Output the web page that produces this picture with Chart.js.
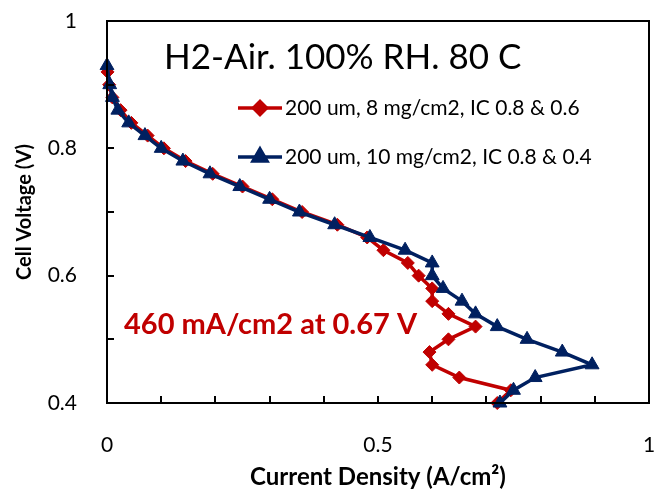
<!DOCTYPE html>
<html>
<head>
<meta charset="utf-8">
<script src="https://cdn.jsdelivr.net/npm/chart.js@4"></script>
<style>
  html, body { margin: 0; padding: 0; background: #fff; }
  canvas { display: block; }
</style>
</head>
<body>
<canvas id="polar" width="658" height="490"></canvas>
<script>
const ctx = document.getElementById('polar')

// polarization curves, current density (A/cm2) vs cell voltage (V)
const redV = [0.92, 0.90, 0.88, 0.86, 0.84, 0.82, 0.80, 0.78, 0.76, 0.74, 0.72, 0.70, 0.68, 0.66, 0.64, 0.62, 0.60, 0.58, 0.56, 0.54, 0.52, 0.50, 0.48, 0.46, 0.44, 0.42, 0.40]
const redI = [0.001, 0.004, 0.01, 0.025, 0.045, 0.075, 0.105, 0.145, 0.195, 0.25, 0.305, 0.36, 0.425, 0.48, 0.51, 0.555, 0.575, 0.60, 0.60, 0.63, 0.68, 0.63, 0.595, 0.60, 0.65, 0.745, 0.72]

const blueV = [0.93, 0.90, 0.88, 0.86, 0.84, 0.82, 0.80, 0.78, 0.76, 0.74, 0.72, 0.70, 0.68, 0.66, 0.64, 0.62, 0.60, 0.58, 0.56, 0.54, 0.52, 0.50, 0.48, 0.46, 0.44, 0.42, 0.40]
const blueI = [0.0, 0.005, 0.01, 0.02, 0.04, 0.07, 0.10, 0.14, 0.19, 0.245, 0.30, 0.355, 0.42, 0.485, 0.55, 0.60, 0.60, 0.62, 0.655, 0.68, 0.72, 0.775, 0.84, 0.895, 0.79, 0.75, 0.725]

const legendNames = ['200 um, 8 mg/cm2, IC 0.8 & 0.6', '200 um, 10 mg/cm2, IC 0.8 & 0.4']
const chartTitle = 'H2-Air. 100% RH. 80 C'
const note = '460 mA/cm2 at 0.67 V'

const RED = '#C00000'
const BLUE = '#002060'
const FONT = 'Lato, "Open Sans", sans-serif'

const pts = (xs, ys) => xs.map((x, i) => ({ x: x, y: ys[i] }))

// inward tick marks, box border, title, legend and note
const extras = {
  id: 'extras',
  afterDraw(chart) {
    const c = chart.ctx
    const a = chart.chartArea
    const sx = chart.scales.x
    const sy = chart.scales.y
    c.save()
    c.strokeStyle = '#000'
    c.lineWidth = 2
    c.beginPath()
    sx.ticks.forEach(t => {
      const px = Math.round(sx.getPixelForValue(t.value))
      c.moveTo(px, a.bottom)
      c.lineTo(px, a.bottom - 7)
    })
    sy.ticks.forEach(t => {
      const py = Math.round(sy.getPixelForValue(t.value))
      c.moveTo(a.left, py)
      c.lineTo(a.left + 7, py)
    })
    c.stroke()
    c.strokeRect(a.left, a.top, a.right - a.left, a.bottom - a.top)

    c.fillStyle = '#000'
    c.textBaseline = 'middle'
    c.textAlign = 'left'
    c.font = '35px ' + FONT
    c.fillText(chartTitle, 164, 58)

    c.font = '21px ' + FONT
    const rows = [108, 157]
    chart.data.datasets.forEach((ds, i) => {
      const y = rows[i]
      c.strokeStyle = ds.borderColor
      c.lineWidth = 3.5
      c.beginPath()
      c.moveTo(238, y)
      c.lineTo(282, y)
      c.stroke()
      c.fillStyle = ds.borderColor
      Chart.helpers.drawPoint(c, {
        pointStyle: ds.pointStyle, radius: ds.pointRadius, borderWidth: 1
      }, 260, y)
      c.fillStyle = '#000'
      c.fillText(legendNames[i], 285, y)
    })

    c.fillStyle = RED
    c.font = 'bold 29px ' + FONT
    c.fillText(note, 124, 325)
    c.restore()
  }
}

const chart = new Chart(ctx, {
  type: 'scatter',
  data: {
    datasets: [{
      label: legendNames[0],
      data: pts(redI, redV),
      showLine: true,
      borderColor: RED,
      backgroundColor: RED,
      borderWidth: 3.5,
      pointStyle: 'rectRot',
      pointRadius: 6.5,
      pointBorderWidth: 1,
      order: 1,
      clip: false
    }, {
      label: legendNames[1],
      data: pts(blueI, blueV),
      showLine: true,
      borderColor: BLUE,
      backgroundColor: BLUE,
      borderWidth: 3.5,
      pointStyle: 'triangle',
      pointRadius: 8,
      pointBorderWidth: 1,
      order: 0,
      clip: false
    }]
  },
  options: {
    responsive: false,
    animation: false,
    layout: { padding: { top: 21, right: 9, left: 0, bottom: 0 } },
    plugins: {
      legend: { display: false },
      tooltip: { enabled: false }
    },
    scales: {
      x: {
        type: 'linear',
        min: 0,
        max: 1,
        afterFit: s => {
          s.height = 87
          s.paddingLeft = 0
          s.paddingRight = 0
        },
        grid: { display: false },
        border: { display: false },
        ticks: {
          stepSize: 0.1,
          padding: 22,
          maxRotation: 0,
          autoSkip: false,
          color: '#000',
          font: { family: FONT, size: 21 },
          callback: v => Math.abs(v * 2 - Math.round(v * 2)) < 1e-6 ? String(+v.toFixed(1)) : ''
        },
        title: {
          display: true,
          text: 'Current Density (A/cm²)',
          color: '#000',
          font: { family: FONT, size: 24, weight: 'bold' },
          padding: { top: 0, bottom: -2 }
        }
      },
      y: {
        type: 'linear',
        min: 0.4,
        max: 1,
        afterFit: s => {
          s.width = 107
          s.paddingTop = 0
          s.paddingBottom = 0
        },
        grid: { display: false },
        border: { display: false },
        ticks: {
          stepSize: 0.1,
          padding: 22,
          autoSkip: false,
          color: '#000',
          font: { family: FONT, size: 21 },
          callback: v => Math.abs(v * 5 - Math.round(v * 5)) < 1e-6 ? String(+v.toFixed(1)) : ''
        },
        title: {
          display: true,
          text: 'Cell Voltage (V)',
          color: '#000',
          font: { family: FONT, size: 20, weight: 'bold' },
          padding: { top: 13, bottom: 0 }
        }
      }
    }
  },
  plugins: [extras]
})
</script>
</body>
</html>
